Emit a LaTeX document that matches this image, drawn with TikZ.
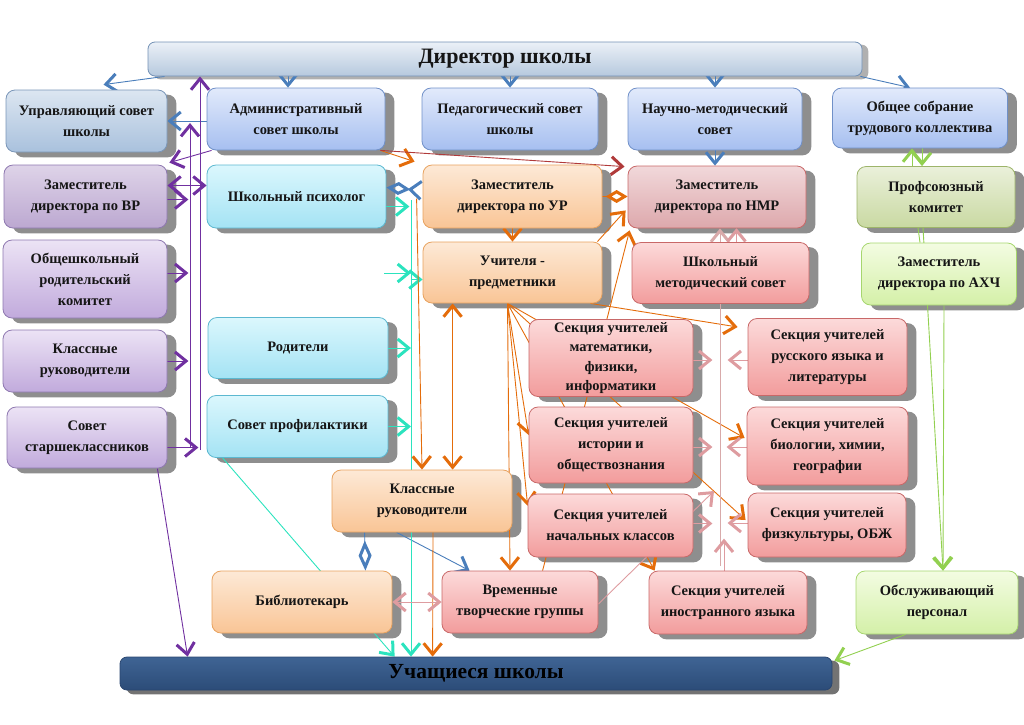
\documentclass[tikz,border=0pt]{standalone}
\usepackage{fontspec}
\setmainfont{Liberation Serif}
\usetikzlibrary{arrows.meta,calc}
\pgfdeclarelayer{shadow}
\pgfdeclarelayer{lines}
\pgfsetlayers{shadow,lines,main}

\definecolor{cBlue}{HTML}{4A7EBB}
\definecolor{cPurple}{HTML}{7030A0}
\definecolor{cCyan}{HTML}{2BE3BE}
\definecolor{cOrange}{HTML}{E46C0A}
\definecolor{cRed}{HTML}{B03A3A}
\definecolor{cPink}{HTML}{DE9CA0}
\definecolor{cPinkL}{HTML}{D8AAAA}
\definecolor{cGreen}{HTML}{92D050}
\definecolor{shd}{HTML}{8E8E8E}
\definecolor{txt}{HTML}{151515}
% box colours
\definecolor{dirT}{HTML}{EBF0F7}\definecolor{dirM}{HTML}{D2DEEB}\definecolor{dirB}{HTML}{B6C9DE}\definecolor{dirD}{HTML}{7391B5}
\definecolor{uchT}{HTML}{3F6494}\definecolor{uchM}{HTML}{4E77AA}\definecolor{uchB}{HTML}{2C4C78}\definecolor{uchD}{HTML}{2A4670}
\definecolor{grT}{HTML}{DCE6F1}\definecolor{grB}{HTML}{A9C1DD}\definecolor{grD}{HTML}{7A96B8}
\definecolor{blT}{HTML}{E2EAFB}\definecolor{blB}{HTML}{A6BFF0}\definecolor{blD}{HTML}{7090C8}
\definecolor{puT}{HTML}{ECE3F5}\definecolor{puB}{HTML}{C1AADC}\definecolor{puD}{HTML}{8E78B0}
\definecolor{pgT}{HTML}{DED3E8}\definecolor{pgB}{HTML}{BCA8D1}
\definecolor{cyT}{HTML}{DBF7FD}\definecolor{cyB}{HTML}{A4E3F4}\definecolor{cyD}{HTML}{5CB8D0}
\definecolor{orT}{HTML}{FDE9D6}\definecolor{orB}{HTML}{F9C596}\definecolor{orD}{HTML}{E8A25E}
\definecolor{pkT}{HTML}{FCDADA}\definecolor{pkB}{HTML}{F29C9C}\definecolor{pkD}{HTML}{C86868}
\definecolor{pgrT}{HTML}{F1D8DA}\definecolor{pgrB}{HTML}{DDA8AC}
\definecolor{olT}{HTML}{EAF0DA}\definecolor{olB}{HTML}{C9D9A2}\definecolor{olD}{HTML}{9DB46A}
\definecolor{lgT}{HTML}{F3FCE2}\definecolor{lgB}{HTML}{D4F0A8}\definecolor{lgD}{HTML}{A6D66E}

\tikzset{
  >={Straight Barb[length=11pt,width=18pt,line width=3pt]},
  box/.style={rounded corners=9pt, draw, line width=0.8pt, align=center,
    font=\fontsize{14.5}{21}\selectfont\bfseries, text=txt, inner sep=2pt},
  dirbox/.style={box, rounded corners=7pt, draw=dirD, top color=dirT, middle color=dirM, bottom color=dirB,
    font=\fontsize{22}{24}\selectfont\bfseries},
  uchbox/.style={box, rounded corners=7pt, draw=uchD, top color=uchT, middle color=uchM, bottom color=uchB,
    font=\fontsize{21.5}{24}\selectfont\bfseries, text=black},
  greybox/.style={box, draw=grD, top color=grT, bottom color=grB},
  bluebox/.style={box, draw=blD, top color=blT, bottom color=blB},
  purplebox/.style={box, draw=puD, top color=puT, bottom color=puB},
  purplegbox/.style={box, draw=puD, top color=pgT, bottom color=pgB},
  cyanbox/.style={box, draw=cyD, top color=cyT, bottom color=cyB},
  orangebox/.style={box, draw=orD, top color=orT, bottom color=orB},
  pinkbox/.style={box, draw=pkD, top color=pkT, bottom color=pkB},
  pinkgbox/.style={box, draw=pkD, top color=pgrT, bottom color=pgrB},
  olivebox/.style={box, draw=olD, top color=olT, bottom color=olB},
  lgreenbox/.style={box, draw=lgD, top color=lgT, bottom color=lgB},
  con/.style={line width=0.9pt, ->},
  bl/.style={con, draw=cBlue},
  pu/.style={con, draw=cPurple},
  cy/.style={con, draw=cCyan},
  or/.style={con, draw=cOrange},
  rd/.style={con, draw=cRed},
  pk/.style={con, draw=cPink},
  gr/.style={con, draw=cGreen},
}

\begin{document}
\begin{tikzpicture}[x=1pt,y=-1pt]
\useasboundingbox (0,0) rectangle (1024,724);

% ---------- nodes ----------
\node[dirbox, minimum width=714pt, minimum height=34pt] (dir) at (505,59) {Директор школы};
\node[uchbox, minimum width=712pt, minimum height=33pt] (uch) at (476,673.5) {Учащиеся школы};

\node[greybox, minimum width=161pt, minimum height=62pt] (upr) at (86.5,121) {Управляющий совет\\школы};
\node[bluebox, minimum width=178pt, minimum height=62pt] (adm) at (296,119) {Административный\\совет школы};
\node[bluebox, minimum width=176pt, minimum height=62pt] (ped) at (510,119) {Педагогический совет\\школы};
\node[bluebox, minimum width=174pt, minimum height=62pt] (nms) at (715,119) {Научно-методический\\совет};
\node[bluebox, minimum width=175pt, minimum height=60pt] (obs) at (920,118) {Общее собрание\\трудового коллектива};

\node[purplegbox, minimum width=163pt, minimum height=63pt] (zvr) at (85.5,196.5) {Заместитель\\директора по ВР};
\node[cyanbox, minimum width=179pt, minimum height=63pt] (psy) at (296.5,196.5) {Школьный психолог};
\node[orangebox, minimum width=179pt, minimum height=63pt] (zur) at (512.5,196.5) {Заместитель\\директора по УР};
\node[pinkgbox, minimum width=178pt, minimum height=62pt] (znmr) at (717,197) {Заместитель\\директора по НМР};
\node[olivebox, minimum width=158pt, minimum height=61pt] (prof) at (936,197) {Профсоюзный\\комитет};

\node[purplebox, minimum width=164pt, minimum height=78pt] (ork) at (85,279) {Общешкольный\\родительский\\комитет};
\node[orangebox, minimum width=179pt, minimum height=61pt] (uchp) at (512.5,272.5) {Учителя -\\предметники};
\node[pinkbox, minimum width=177pt, minimum height=61pt] (shms) at (720.5,273) {Школьный\\методический совет};
\node[lgreenbox, minimum width=155pt, minimum height=62pt] (axch) at (939,274) {Заместитель\\директора по АХЧ};

\node[purplebox, minimum width=164pt, minimum height=62pt] (kr1) at (85,361) {Классные\\руководители};
\node[cyanbox, minimum width=180pt, minimum height=61pt] (rod) at (298,348) {Родители};
\node[pinkbox, minimum width=164pt, minimum height=77pt, font=\fontsize{14.5}{19.5}\selectfont\bfseries] (smat) at (611,358) {Секция учителей\\математики,\\физики,\\информатики};
\node[pinkbox, minimum width=159pt, minimum height=77pt] (srus) at (827.5,357) {Секция учителей\\русского языка и\\литературы};

\node[purplebox, minimum width=160pt, minimum height=61pt] (sst) at (87,437.5) {Совет\\старшеклассников};
\node[cyanbox, minimum width=181pt, minimum height=62pt] (sprof) at (297.5,426.5) {Совет профилактики};
\node[pinkbox, minimum width=164pt, minimum height=76pt] (sist) at (611,445) {Секция учителей\\истории и\\обществознания};
\node[pinkbox, minimum width=161pt, minimum height=78pt] (sbio) at (827.5,446) {Секция учителей\\биологии, химии,\\географии};

\node[orangebox, minimum width=180pt, minimum height=62pt] (kr2) at (422,501) {Классные\\руководители};
\node[pinkbox, minimum width=165pt, minimum height=63pt] (snach) at (610.5,525.5) {Секция учителей\\начальных классов};
\node[pinkbox, minimum width=158pt, minimum height=64pt] (sfiz) at (827,525) {Секция учителей\\физкультуры, ОБЖ};

\node[orangebox, minimum width=180pt, minimum height=62pt] (bib) at (302,602) {Библиотекарь};
\node[pinkbox, minimum width=156pt, minimum height=62pt] (vtg) at (520,602) {Временные\\творческие группы};
\node[pinkbox, minimum width=158pt, minimum height=63pt] (sino) at (728,602.5) {Секция учителей\\иностранного языка};
\node[lgreenbox, minimum width=162pt, minimum height=63pt] (obsl) at (937,602.5) {Обслуживающий\\персонал};

% ---------- shadows ----------
\begin{pgfonlayer}{shadow}
\foreach \n in {upr,adm,ped,nms,obs,zvr,psy,zur,znmr,prof,ork,uchp,shms,axch,kr1,rod,smat,srus,sst,sprof,sist,sbio,kr2,snach,sfiz,bib,vtg,sino,obsl}
  \fill[shd, rounded corners=9pt] ($(\n.south west)+(9,5)$) rectangle ($(\n.north east)+(9,5)$);
\fill[shd!70, rounded corners=7pt] ($(dir.south west)+(6,3)$) rectangle ($(dir.north east)+(6,3)$);
\fill[black!55, rounded corners=7pt] ($(uch.south west)+(7,4)$) rectangle ($(uch.north east)+(7,4)$);
\end{pgfonlayer}

% ---------- connectors ----------
\begin{pgfonlayer}{lines}
% blue
\draw[bl] ($(dir.south west)+(17,0)$) -- ($(upr.north)+(17,-5)$);
\draw[bl] ($(adm.north)+(-8,-12)$) -- ($(adm.north)+(-8,0)$);
\draw[bl] (dir.south -| ped.north) -- (ped.north);
\draw[bl] (dir.south -| nms.north) -- (nms.north);
\draw[bl] ($(dir.south east)+(-2,0)$) -- ($(obs.north)+(-10,0)$);
\draw[bl] (nms.south) -- (nms.south |- znmr.north);
\draw[bl] (upr.east -| adm.west) -- (upr.east);
\draw[bl, {Diamond[open,length=24pt,width=13pt,line width=3pt]}-{Straight Barb[reversed,length=11pt,width=18pt,line width=3pt]}] ($(psy.east)+(0,-9)$) -- ($(zur.west)+(0,-6)$);
\draw[bl] ($(kr2.south west)+(65,0)$) -- ($(vtg.north west)+(28,0)$);
\draw[bl, {Diamond[open,length=30pt,width=13pt,line width=3pt]}-] ($(bib.north east)+(-27,0)$) -- ($(kr2.south west)+(33,0)$);
% purple
\coordinate (pa) at (190,447);
\coordinate (pat) at (190,123);
\coordinate (pb) at (200,450);
\draw[pu] (pa) -- (pat);
\draw[pu] (pb) -- (pb |- dir.south);
\draw[pu] ($(adm.south west)+(5,0)$) -- ($(zvr.north east)+(2,-2)$);
\draw[pu, <->] ($(zvr.east)+(0,-11)$) -- ($(psy.west)+(0,-11)$);
\draw[pu] ($(zvr.east)+(0,3)$) -- ($(zvr.east)+(21,3)$);
\draw[pu] ($(ork.east)+(0,-6)$) -- ($(ork.east)+(21,-6)$);
\draw[pu] (kr1.east) -- ($(kr1.east)+(21,0)$);
\draw[pu] ($(sst.east)+(0,10)$) -- ($(sst.east)+(31,10)$);
\draw[pu] ($(sst.south east)+(-10,0)$) -- ($(uch.north west)+(68,0)$);
% cyan
\coordinate (cb) at (411,200);
\coordinate (cf) at (384,273);
\draw[cy] (cb) -- (cb |- uch.north);
\draw[cy] ($(psy.east)+(0,10)$) -- ($(psy.east)+(23,10)$);
\draw[cy] (cf) -- (cf -| cb);
\draw[cy] ($(uchp.west)+(-12,7)$) -- ($(uchp.west)+(0,7)$);
\draw[cy] (rod.east) -- (rod.east -| cb);
\draw[cy] (sprof.east) -- (sprof.east -| cb);
\draw[cy] ($(sprof.south west)+(16,0)$) -- ($(uch.north west)+(275,0)$);
% orange
\draw[or] ($(adm.south east)+(-5,0)$) -- ($(zur.north west)+(-8,-3)$);
\draw[rd] ($(adm.south east)+(-5,0)$) -- ($(znmr.north west)+(-3,1)$);
\draw[or] (zur.south) -- (zur.south |- uchp.north);
\draw[or, -{Diamond[open,length=22pt,width=13pt,line width=3pt]}] (zur.east) -- (zur.east -| znmr.west);
\draw[or] ($(uchp.north east)+(-5,0)$) -- ($(znmr.south west)+(-2,-18)$);
\draw[or] ($(vtg.north west)+(101,0)$) -- ($(znmr.south west)+(2,2)$);
\draw[or] ($(zur.west)+(-6,2)$) -- (kr2.north);
\draw[or, <->] ($(uchp.south west)+(30,0)$) -- ($(kr2.north west)+(121,0)$);
\draw[or] ($(kr2.south)+(11,0)$) -- ($(uch.north west)+(313,0)$);
\draw[or] ($(uchp.south)+(-5,0)$) -- ($(sist.west)+(0,-10)$);
\draw[or] ($(uchp.south)+(-5,0)$) -- ($(snach.north west)+(0,12)$);
\draw[or] ($(uchp.south)+(-5,0)$) -- ($(vtg.north)+(-10,0)$);
\draw[or] ($(uchp.south)+(-5,0)$) -- ($(sino.north west)+(6,0)$);
\draw[or] ($(uchp.south)+(-5,0)$) -- ($(sbio.west)+(-2,-8)$);
\draw[or] ($(uchp.south)+(-5,0)$) -- ($(sfiz.west)+(-2,-5)$);
\draw[or] ($(uchp.south east)+(-12,0)$) -- ($(srus.west)+(-10,-30)$);
% pink
\coordinate (kb) at (720,566);
\draw[pk, draw=cPinkL, line width=0.8pt] (kb) -- (kb |- znmr.south);
\draw[pk] ($(shms.north)+(16,0)$) -- ($(shms.north)+(16,-14)$);
\draw[pk] ($(sino.north)+(-4,0)$) -- ($(sino.north)+(-4,-32)$);
\draw[pk] ($(smat.east)+(0,2)$) -- ($(smat.east)+(19,2)$);
\draw[pk] ($(srus.west)+(0,3)$) -- ($(srus.west)+(-20,3)$);
\draw[pk] ($(sist.east)+(0,2)$) -- ($(sist.east)+(19,2)$);
\draw[pk] ($(sbio.west)+(0,1)$) -- ($(sbio.west)+(-20,1)$);
\draw[pk] ($(snach.east)+(0,-2)$) -- ($(snach.east)+(19,-2)$);
\draw[pk] ($(sfiz.west)+(0,-2)$) -- ($(sfiz.west)+(-20,-2)$);
\draw[pk] ($(vtg.east)+(0,2)$) -- ($(kb)+(-6,-75)$);
\draw[pk, <->] (bib.east) -- (vtg.west);
% green
\draw[gr] ($(prof.north)+(-24,0)$) -- ($(obs.south)+(-8,0)$);
\draw[gr] ($(obs.south)+(2,0)$) -- ($(prof.north)+(-14,0)$);
\draw[gr, -] ($(prof.south)+(-18,0)$) -- ($(axch.north)+(-19,0)$);
\draw[gr] ($(prof.south)+(-13,0)$) -- ($(obsl.north)+(6,0)$);
\draw[gr] ($(axch.south)+(5,0)$) -- ($(obsl.north)+(6,0)$);
\draw[gr] ($(obsl.south west)+(50,0)$) -- ($(uch.north east)+(2,4)$);
\end{pgfonlayer}
\end{tikzpicture}
\end{document}
